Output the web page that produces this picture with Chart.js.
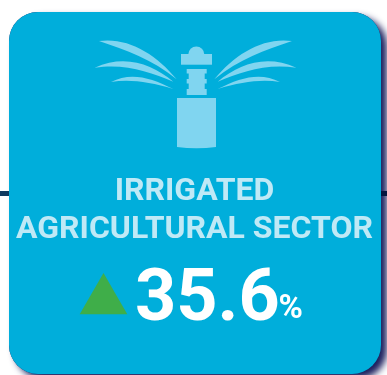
<!DOCTYPE html>
<html>
<head>
<meta charset="utf-8">
<title>Irrigated agricultural sector</title>
<script src="https://cdn.jsdelivr.net/npm/chart.js@4"></script>
<style>
  html, body { margin: 0; padding: 0; background: #fff; }
  canvas { display: block; }
</style>
</head>
<body>
<canvas id="sectorTile" width="387" height="375"></canvas>
<script>
const categories = ['IRRIGATED AGRICULTURAL SECTOR'];
const titleLines = ['IRRIGATED', 'AGRICULTURAL SECTOR'];
const changeValues = [35.6];
const valueUnit = '%';

const CARD_BLUE = '#00aedb';
const ICON_BLUE = '#80d5f0';
const TITLE_BLUE = '#bfe9f6';

function roundedCard(ctx) {
  ctx.beginPath();
  ctx.roundRect(9, 12, 372, 362, 29);
}

// sprinkler head in the top of the tile
function drawSprinkler(ctx) {
  ctx.fillStyle = ICON_BLUE;
  ctx.beginPath();
  ctx.arc(196.3, 54.5, 8, Math.PI, 0);
  ctx.fill();
  ctx.fillRect(181, 54, 31, 10.7);

  ctx.fillRect(186.7, 69, 20, 4.5);
  ctx.fillRect(188.7, 73, 16, 20);
  ctx.fillRect(186.7, 79, 20, 4.5);
  ctx.fillRect(186.7, 89, 20, 6);

  ctx.beginPath();
  ctx.moveTo(177, 98);
  ctx.lineTo(216, 98);
  ctx.lineTo(216, 147);
  ctx.quadraticCurveTo(196.5, 149.5, 177, 147);
  ctx.closePath();
  ctx.fill();

  const jets = [
    [99, 41, 128, 37, 156, 54, 176.7, 79.3, 152, 59, 126, 50],
    [94.7, 67.7, 125, 54, 152, 64, 173.3, 81.7, 150, 72, 125, 63],
    [111, 82, 130, 72, 150, 77, 173.3, 89, 150, 82, 130, 79]
  ];
  // left jets, then the same curves flipped around the stem
  [1, -1].forEach(side => {
    ctx.save();
    if (side < 0) {
      ctx.translate(391, 0);
      ctx.scale(-1, 1);
    }
    jets.forEach(j => {
      ctx.beginPath();
      ctx.moveTo(j[0], j[1]);
      ctx.bezierCurveTo(j[2], j[3], j[4], j[5], j[6], j[7]);
      ctx.bezierCurveTo(j[8], j[9], j[10], j[11], j[0], j[1]);
      ctx.fill();
    });
    ctx.restore();
  });
}

const tileBackground = {
  id: 'tileBackground',
  beforeDraw(chart) {
    const ctx = chart.ctx;
    ctx.save();
    ctx.fillStyle = '#fff';
    ctx.fillRect(0, 0, 387, 375);

    ctx.save();
    ctx.shadowColor = '#1c1f5e';
    ctx.shadowBlur = 7;
    ctx.shadowOffsetX = 6;
    ctx.shadowOffsetY = 5;
    ctx.fillStyle = '#1c1f5e';
    roundedCard(ctx);
    ctx.fill();
    ctx.restore();

    // rule runs behind the card but over its shadow
    ctx.fillStyle = '#0f3a5f';
    ctx.fillRect(0, 191, 9, 5);
    ctx.fillStyle = '#04153f';
    ctx.fillRect(381, 191, 6, 5);

    ctx.fillStyle = CARD_BLUE;
    roundedCard(ctx);
    ctx.fill();

    drawSprinkler(ctx);
    ctx.restore();
  }
};

const tileText = {
  id: 'tileText',
  afterDraw(chart) {
    const ctx = chart.ctx;
    ctx.save();
    ctx.textBaseline = 'alphabetic';
    ctx.textAlign = 'center';
    ctx.fillStyle = TITLE_BLUE;
    ctx.font = '700 32px Roboto';
    ctx.fillText(titleLines[0], 194.5, 200);
    ctx.fillText(titleLines[1], 194.5, 238);

    ctx.textAlign = 'left';
    ctx.fillStyle = '#fff';
    ctx.font = '700 72px Roboto';
    const label = changeValues[0].toFixed(1);
    ctx.fillText(label, 135, 320);
    ctx.font = '700 33px Roboto';
    ctx.fillText(valueUnit, 278.5, 318);
    ctx.restore();
  }
};

new Chart(document.getElementById('sectorTile'), {
  type: 'line',
  data: {
    labels: categories,
    datasets: [{
      data: changeValues,
      showLine: false,
      clip: false,
      pointStyle: 'triangle',
      pointRadius: 27.5,
      pointBackgroundColor: '#3fae49',
      pointBorderWidth: 0
    }]
  },
  options: {
    responsive: false,
    animation: false,
    layout: { autoPadding: false, padding: { left: 0, right: 180, top: 270.4, bottom: 0 } },
    plugins: { legend: { display: false }, tooltip: { enabled: false } },
    scales: {
      x: { display: false, offset: true },
      y: { display: false, min: 0, max: 50 }
    }
  },
  plugins: [tileBackground, tileText]
});
</script>
</body>
</html>
